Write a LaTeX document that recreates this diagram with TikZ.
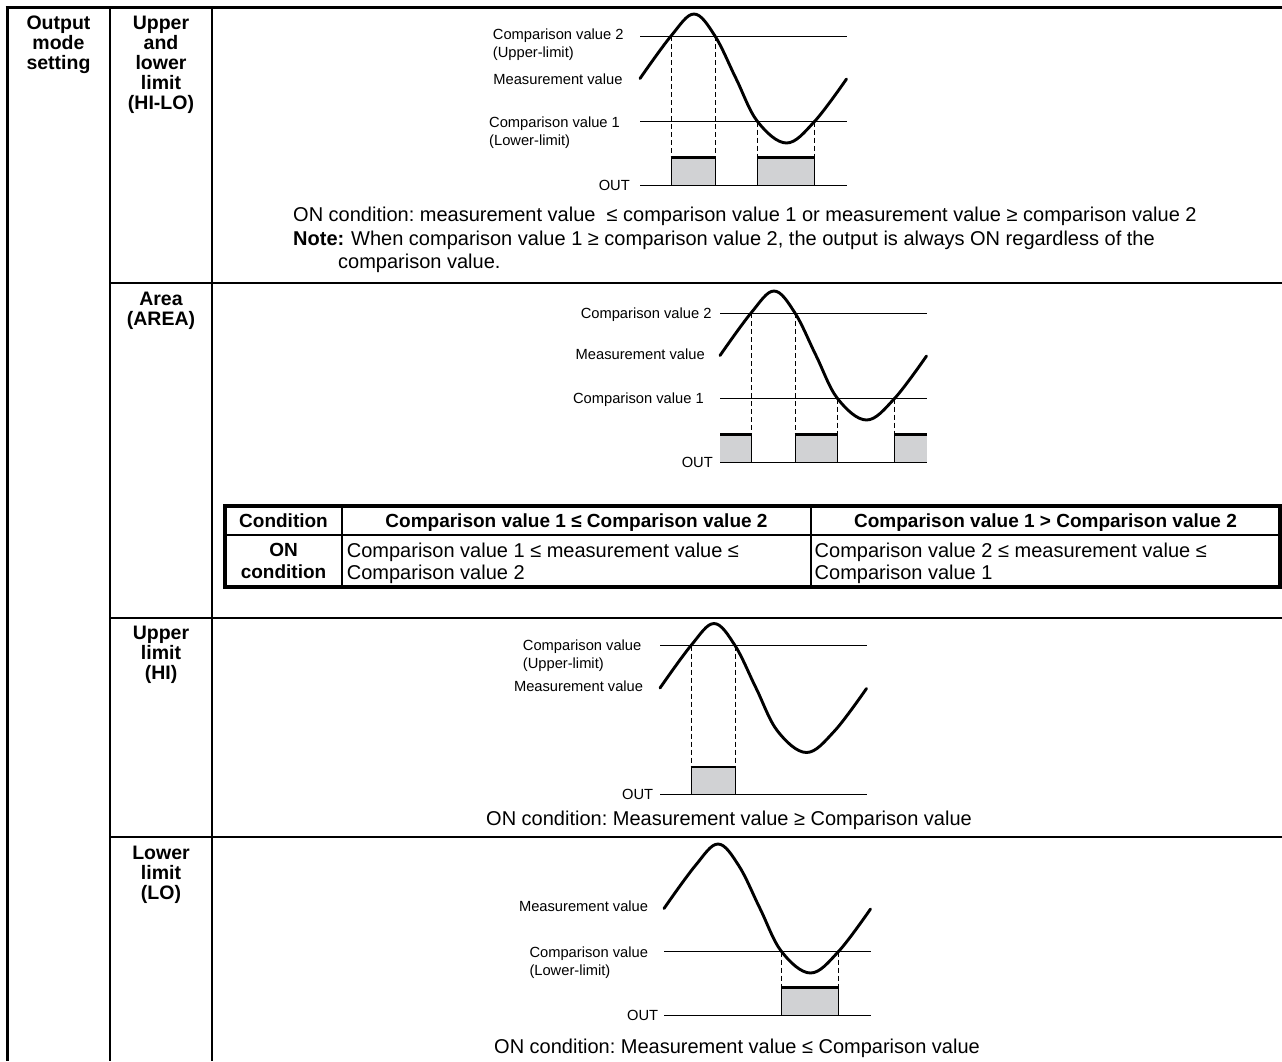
\documentclass[tikz,border=0pt]{standalone}
\usepackage{fontspec}
\setmainfont{Liberation Sans}
\definecolor{boxgray}{RGB}{209,210,212}
\frenchspacing
\begin{document}
\frenchspacing
\begin{tikzpicture}[x=1pt,y=-1pt,
  outerline/.style={line width=3.2pt},
  cellline/.style={line width=2.8pt},
  thinrule/.style={line width=2pt},
  lvl/.style={line width=1pt},
  dashline/.style={line width=0.9pt, dash pattern=on 5pt off 3pt},
  boxedge/.style={line width=1pt},
  ontop/.style={line width=2.6pt},
  waveline/.style={line width=2.9pt, line cap=round, line join=round},
  lbl/.style={font=\fontsize{14.7}{18}\selectfont, inner sep=0pt, text height=10.5pt, text depth=0pt},
  lblm/.style={font=\fontsize{14.7}{18}\selectfont, inner sep=0pt, align=left, anchor=north west},
  head/.style={font=\bfseries\fontsize{19.5}{20}\selectfont, align=center, inner sep=0pt, anchor=north},
  body/.style={font=\fontsize{20}{22}\selectfont, inner sep=0pt, text height=14.3pt, text depth=0pt, anchor=west},
  bodyb/.style={font=\bfseries\fontsize{20}{22}\selectfont, inner sep=0pt, text height=14.3pt, text depth=0pt, anchor=west},
  bodym/.style={font=\fontsize{20}{22}\selectfont, inner sep=0pt, align=left, anchor=north west},
  thead/.style={font=\bfseries\fontsize{19}{22}\selectfont, inner sep=0pt, text height=13.6pt, text depth=0pt},
  tbold/.style={font=\bfseries\fontsize{19}{22}\selectfont, inner sep=0pt, align=center, anchor=north},
  wave/.pic={\draw[waveline] plot[smooth,tension=0.6] coordinates {(0,0) (31,-42.5) (54,-64.5) (75,-42.5) (96,0) (117.5,43) (146.5,64.5) (174.5,43) (206.5,0.5)};}
]
\useasboundingbox (0,0) rectangle (1282,1061);

% ---------- outer table grid ----------
\draw[outerline] (5.7,7.8) -- (1282,7.8);
\draw[outerline] (7.3,6.2) -- (7.3,1061);
\draw[thinrule] (110,7) -- (110,1061);
\draw[cellline] (212,7) -- (212,1061);
\draw[cellline] (110,283) -- (1282,283);
\draw[cellline] (110,618) -- (1282,618);
\draw[cellline] (110,837) -- (1282,837);

% ---------- left column labels ----------
\node[head] (omode) at (58.5,15.7) {Output\\mode\\setting};
\node[head] (hilo) at (161,15.7) {Upper\\and\\lower\\limit\\(HI-LO)};
\node[head] (area) at (161,291.7) {Area\\(AREA)};
\node[head] (hi) at (161,626.3) {Upper\\limit\\(HI)};
\node[head] (lo) at (161,845.7) {Lower\\limit\\(LO)};

% ---------- HI-LO diagram ----------
\begin{scope}[shift={(640,78.5)}]
  \fill[boxgray] (31,79) rectangle (75,106.5);
  \fill[boxgray] (117.5,79) rectangle (174.5,106.5);
  \draw[lvl] (0,-42.5) -- (206.5,-42.5);
  \draw[lvl] (0,43) -- (206.5,43);
  \draw[lvl] (0,106.5) -- (206.5,106.5);
  \draw[dashline] (31,-42.5) -- (31,79);
  \draw[dashline] (75,-42.5) -- (75,79);
  \draw[dashline] (117.5,43) -- (117.5,79);
  \draw[dashline] (174.5,43) -- (174.5,79);
  \draw[boxedge] (31,79) -- (31,106.5) (75,79) -- (75,106.5);
  \draw[boxedge] (117.5,79) -- (117.5,106.5) (174.5,79) -- (174.5,106.5);
  \draw[ontop] (30.5,79) -- (75.5,79);
  \draw[ontop] (117,79) -- (175,79);
  \pic {wave};
\end{scope}
\node[lblm] (hlcv2) at (492.7,28.8) {Comparison value 2\\(Upper-limit)};
\node[lbl,anchor=east] (hlmv) at (622.7,79) {Measurement value};
\node[lblm] (hlcv1) at (489,116.3) {Comparison value 1\\(Lower-limit)};
\node[lbl,anchor=east] (hlout) at (630,185) {OUT};
\node[body] (hlon) at (293,214) {ON condition: measurement value\ \ ≤ comparison value 1 or measurement value ≥ comparison value 2};
\node[bodyb] (hlnote) at (293,238) {Note:};
\node[body] (hlnotet) at (351,238) {When comparison value 1 ≥ comparison value 2, the output is always ON regardless of the};
\node[body] (hlnotec) at (338,261) {comparison value.};

% ---------- AREA diagram ----------
\begin{scope}[shift={(720,355.5)}]
  \fill[boxgray] (0,79) rectangle (31,106.5);
  \fill[boxgray] (75,79) rectangle (117.5,106.5);
  \fill[boxgray] (174.5,79) rectangle (206.5,106.5);
  \draw[lvl] (0,-42.5) -- (206.5,-42.5);
  \draw[lvl] (0,43) -- (206.5,43);
  \draw[lvl] (0,106.5) -- (206.5,106.5);
  \draw[dashline] (31,-42.5) -- (31,79);
  \draw[dashline] (75,-42.5) -- (75,79);
  \draw[dashline] (117.5,43) -- (117.5,79);
  \draw[dashline] (174.5,43) -- (174.5,79);
  \draw[boxedge] (31,79) -- (31,106.5) (75,79) -- (75,106.5);
  \draw[boxedge] (117.5,79) -- (117.5,106.5) (174.5,79) -- (174.5,106.5);
  \draw[ontop] (0,79) -- (31.5,79);
  \draw[ontop] (74.5,79) -- (118,79);
  \draw[ontop] (174,79) -- (206.5,79);
  \pic {wave};
\end{scope}
\node[lbl,anchor=east] (arcv2) at (711.7,313) {Comparison value 2};
\node[lbl,anchor=east] (armv) at (705,354) {Measurement value};
\node[lbl,anchor=east] (arcv1) at (704,398) {Comparison value 1};
\node[lbl,anchor=east] (arout) at (713,462) {OUT};

% inner condition table
\draw[outerline] (225,506) rectangle (1280,587);
\draw[thinrule] (225,535) -- (1280,535);
\draw[thinrule] (342,506) -- (342,587);
\draw[thinrule] (811,506) -- (811,587);
\node[thead] (tcond) at (283.5,520.5) {Condition};
\node[thead] (tle) at (576.5,520.5) {Comparison value 1 ≤ Comparison value 2};
\node[thead] (tgt) at (1045.5,520.5) {Comparison value 1 > Comparison value 2};
\node[tbold] (ton) at (283.5,543) {ON\\condition};
\node[bodym] (tonle) at (346.7,543) {Comparison value 1 ≤ measurement value ≤\\Comparison value 2};
\node[bodym] (tongt) at (814.5,543) {Comparison value 2 ≤ measurement value ≤\\Comparison value 1};

% ---------- HI diagram ----------
\begin{scope}[shift={(660,688)}]
  \fill[boxgray] (31,79) rectangle (75,106.5);
  \draw[lvl] (0,-42.5) -- (206.5,-42.5);
  \draw[lvl] (0,106.5) -- (206.5,106.5);
  \draw[dashline] (31,-42.5) -- (31,79);
  \draw[dashline] (75,-42.5) -- (75,79);
  \draw[boxedge] (31,79) -- (31,106.5) (75,79) -- (75,106.5);
  \draw[ontop] (30.5,79) -- (75.5,79);
  \pic {wave};
\end{scope}
\node[lblm] (hicv) at (522.7,639.8) {Comparison value\\(Upper-limit)};
\node[lbl,anchor=east] (himv) at (643.3,686) {Measurement value};
\node[lbl,anchor=east] (hiout) at (653.3,794.5) {OUT};
\node[body] (hion) at (486,818) {ON condition: Measurement value ≥ Comparison value};

% ---------- LO diagram ----------
\begin{scope}[shift={(664,908.5)}]
  \fill[boxgray] (117.5,79) rectangle (174.5,106.5);
  \draw[lvl] (0,43) -- (206.5,43);
  \draw[lvl] (0,106.5) -- (206.5,106.5);
  \draw[dashline] (117.5,43) -- (117.5,79);
  \draw[dashline] (174.5,43) -- (174.5,79);
  \draw[boxedge] (117.5,79) -- (117.5,106.5) (174.5,79) -- (174.5,106.5);
  \draw[ontop] (117,79) -- (175,79);
  \pic {wave};
\end{scope}
\node[lbl,anchor=east] (lomv) at (648.3,906.7) {Measurement value};
\node[lblm] (locv) at (529.3,946.3) {Comparison value\\(Lower-limit)};
\node[lbl,anchor=east] (loout) at (658.3,1015) {OUT};
\node[body] (loon) at (494,1046) {ON condition: Measurement value ≤ Comparison value};
\end{tikzpicture}
\end{document}
